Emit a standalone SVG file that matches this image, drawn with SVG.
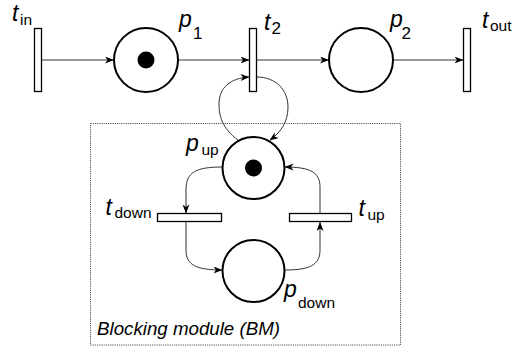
<svg xmlns="http://www.w3.org/2000/svg" width="512" height="347" viewBox="0 0 512 347">
<defs>
<style>
.place{fill:#fff;stroke:#000;stroke-width:2}
.trans{fill:#fff;stroke:#000;stroke-width:1.3}
.token{fill:#000}
.arc{fill:none;stroke:#333;stroke-width:1;marker-end:url(#ah)}
.lbl{font-family:"Liberation Sans",Arial,sans-serif;font-style:italic;font-size:23px;fill:#000}
.sub{font-family:"Liberation Sans",Arial,sans-serif;font-size:15.5px;fill:#000}
.subn{font-family:"Liberation Sans",Arial,sans-serif;font-size:17px;fill:#000}
.box{fill:none;stroke:#555;stroke-width:1;stroke-dasharray:1.2 1}
.cap{font-family:"Liberation Sans",Arial,sans-serif;font-style:italic;font-size:18px;fill:#000}
</style>
<marker id="ah" markerUnits="userSpaceOnUse" markerWidth="10" markerHeight="8" refX="9" refY="3.5" orient="auto">
<path d="M0,0 L9,3.5 L0,7 L2.5,3.5 z" fill="#000"/>
</marker>
</defs>
<rect width="512" height="347" fill="#fff"/>
<g id="module">
<rect class="box" x="90.5" y="123.5" width="310" height="221.5"/>
<text class="cap" x="97" y="335" textLength="183" lengthAdjust="spacingAndGlyphs">Blocking module (BM)</text>
</g>
<g id="connectors">
<path class="arc" d="M41.5,60 H114"/>
<path class="arc" d="M178,60 H249.5"/>
<path class="arc" d="M256.5,60 H329"/>
<path class="arc" d="M393,60 H463.5"/>
<path class="arc" d="M238,140 C222,128 219,116 219,104 C219,88 230,78 249.5,77"/>
<path class="arc" d="M256.5,77 C276,77 288,90 288,107 C288,122 281,132 269.5,140.5"/>
<path class="arc" d="M222.5,167 C196,167 186,172 186,190 V213.5"/>
<path class="arc" d="M186,221.5 V250 C186,265 196,270 222.5,270"/>
<path class="arc" d="M284.5,270 C310,270 320,265 320,250 V222"/>
<path class="arc" d="M320,213.5 V187 C320,172 310,167 284.5,167"/>
</g>
<g id="t_in">
<rect class="trans" x="34.5" y="28.5" width="7" height="63"/>
<text class="lbl" x="12" y="21">t</text><text class="sub" x="20" y="25">in</text>
</g>
<g id="p1">
<circle class="place" cx="146" cy="60" r="32"/>
<circle class="token" cx="146" cy="60" r="8.5"/>
<text class="lbl" x="179" y="27">p</text><text class="subn" x="193" y="39">1</text>
</g>
<g id="t2">
<rect class="trans" x="249.5" y="28.5" width="7" height="63"/>
<text class="lbl" x="264" y="30">t</text><text class="subn" x="271.5" y="34">2</text>
</g>
<g id="p2">
<circle class="place" cx="361" cy="60" r="32"/>
<text class="lbl" x="390" y="27">p</text><text class="subn" x="401.5" y="39">2</text>
</g>
<g id="t_out">
<rect class="trans" x="463.5" y="28.5" width="7" height="63"/>
<text class="lbl" x="482" y="28">t</text><text class="sub" x="490" y="31">out</text>
</g>
<g id="p_up">
<circle class="place" cx="253.5" cy="168" r="31"/>
<circle class="token" cx="253.5" cy="168" r="8.5"/>
<text class="lbl" x="186" y="151">p</text><text class="sub" x="201.5" y="155">up</text>
</g>
<g id="t_down">
<rect class="trans" x="157.5" y="213.5" width="64" height="8"/>
<text class="lbl" x="105.5" y="215">t</text><text class="sub" x="114.5" y="218">down</text>
</g>
<g id="t_up">
<rect class="trans" x="289.5" y="213.5" width="62" height="8"/>
<text class="lbl" x="358.5" y="216">t</text><text class="sub" x="367.5" y="220">up</text>
</g>
<g id="p_down">
<circle class="place" cx="253.5" cy="271" r="31"/>
<text class="lbl" x="284" y="297">p</text><text class="sub" x="298" y="308">down</text>
</g>
</svg>
